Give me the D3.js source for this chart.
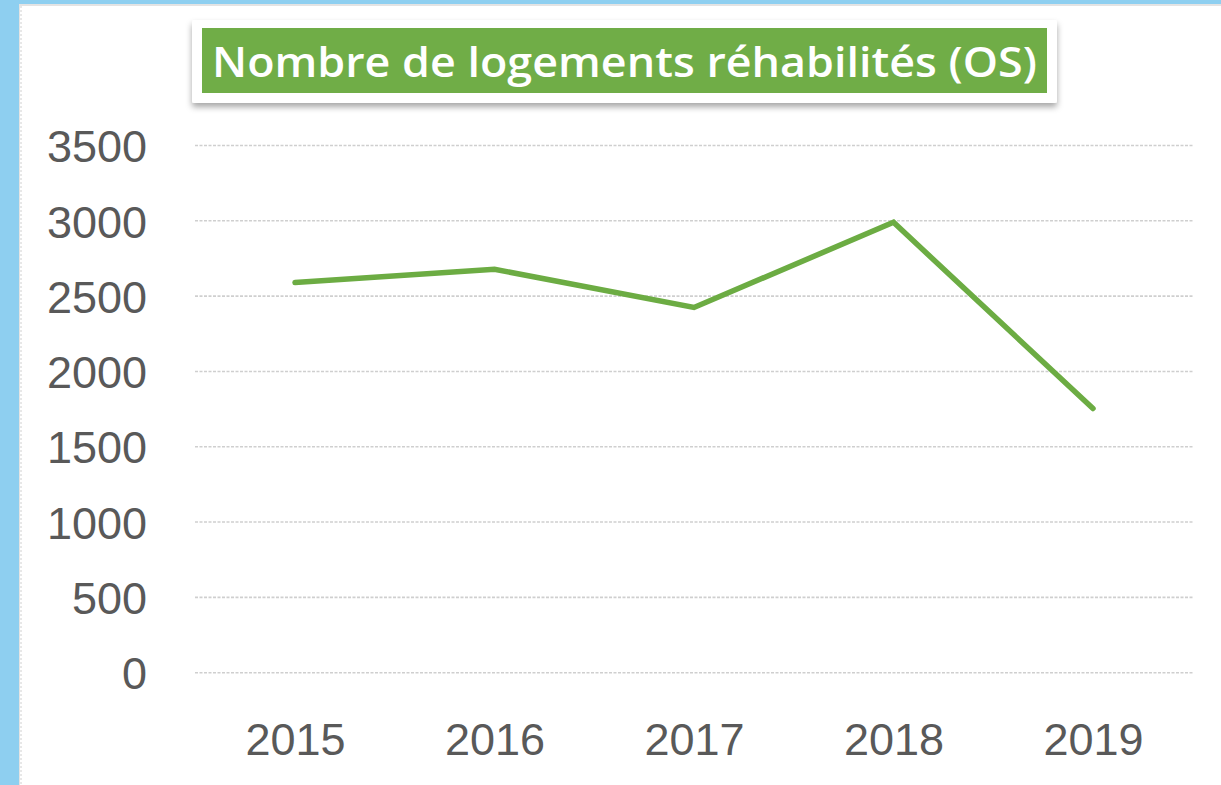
<!DOCTYPE html>
<html><head><meta charset="utf-8">
<script src="https://cdn.jsdelivr.net/npm/d3@7"></script>
<style>
html,body{margin:0;padding:0;background:#fff;overflow:hidden}
</style></head>
<body>
<svg id="c" width="1221" height="785"></svg>
<script>
const years = ["2015","2016","2017","2018","2019"];
const logements = [2590, 2678, 2425, 2990, 1754];
const yTicks = [0,500,1000,1500,2000,2500,3000,3500];
const title = "Nombre de logements réhabilités (OS)";

const svg = d3.select("#c");
const W = 1221, H = 785;

// background frame
svg.append("rect").attr("x",0).attr("y",0).attr("width",W).attr("height",H).attr("fill","#8ECFF0");
svg.append("rect").attr("x",19).attr("y",4).attr("width",W-19).attr("height",H-4).attr("fill","#E3E3E3");
svg.append("rect").attr("x",20).attr("y",6).attr("width",W-20).attr("height",H-6).attr("fill","#fff");
svg.append("line").attr("x1",21).attr("x2",21).attr("y1",6).attr("y2",H)
  .attr("stroke","#d0d0d0").attr("stroke-dasharray","2,2");

const defs = svg.append("defs");
const f = defs.append("filter").attr("id","sh").attr("x","-5%").attr("y","-20%").attr("width","110%").attr("height","160%");
f.append("feDropShadow").attr("dx",0).attr("dy",4).attr("stdDeviation",3).attr("flood-color","#000").attr("flood-opacity",0.35);

const x = d3.scalePoint().domain(years).range([295, 1093]);
const y = d3.scaleLinear().domain([0,3500]).range([672.7,145.5]);

// gridlines
const grid = svg.append("g");
grid.selectAll("line").data(yTicks).join("line")
  .attr("x1",195).attr("x2",1194)
  .attr("y1",d=>y(d)).attr("y2",d=>y(d))
  .attr("stroke","#CFCFCF").attr("stroke-width",1.6).attr("stroke-dasharray","3,1.5");

// y axis labels
const yAxis = d3.axisLeft(y).tickValues(yTicks).tickSize(0).tickPadding(0).tickFormat(d3.format("d"));
const ya = svg.append("g").attr("transform","translate(147,0)").call(yAxis);
ya.select(".domain").remove();
ya.selectAll("text").attr("font-family","'Liberation Sans', Arial, sans-serif")
  .attr("font-size",45).attr("fill","#595959").attr("dy","0.36em");

// x axis labels
const xAxis = d3.axisBottom(x).tickSize(0).tickPadding(0);
const xa = svg.append("g").attr("transform","translate(0,723)").call(xAxis);
xa.select(".domain").remove();
xa.selectAll("text").attr("font-family","'Liberation Sans', Arial, sans-serif")
  .attr("font-size",45).attr("fill","#595959").attr("dy","0.71em");

// line
const line = d3.line().x((d,i)=>x(years[i])).y(d=>y(d));
svg.append("path").datum(logements).attr("d",line)
  .attr("fill","none").attr("stroke","#6CAC43").attr("stroke-width",5.5)
  .attr("stroke-linejoin","miter").attr("stroke-linecap","round");

// title box
svg.append("rect").attr("x",192).attr("y",20).attr("width",865).attr("height",83)
  .attr("fill","#fff").attr("rx",2).attr("filter","url(#sh)");
svg.append("rect").attr("x",202).attr("y",28).attr("width",845).attr("height",65).attr("fill","#70AD47");
svg.append("text").attr("x",212).attr("y",77).text(title)
  .attr("font-family","'Open Sans', 'Liberation Sans', sans-serif").attr("font-weight","600")
  .attr("font-size",42).attr("fill","#fff")
  .attr("textLength",825).attr("lengthAdjust","spacingAndGlyphs");
</script>
</body></html>
